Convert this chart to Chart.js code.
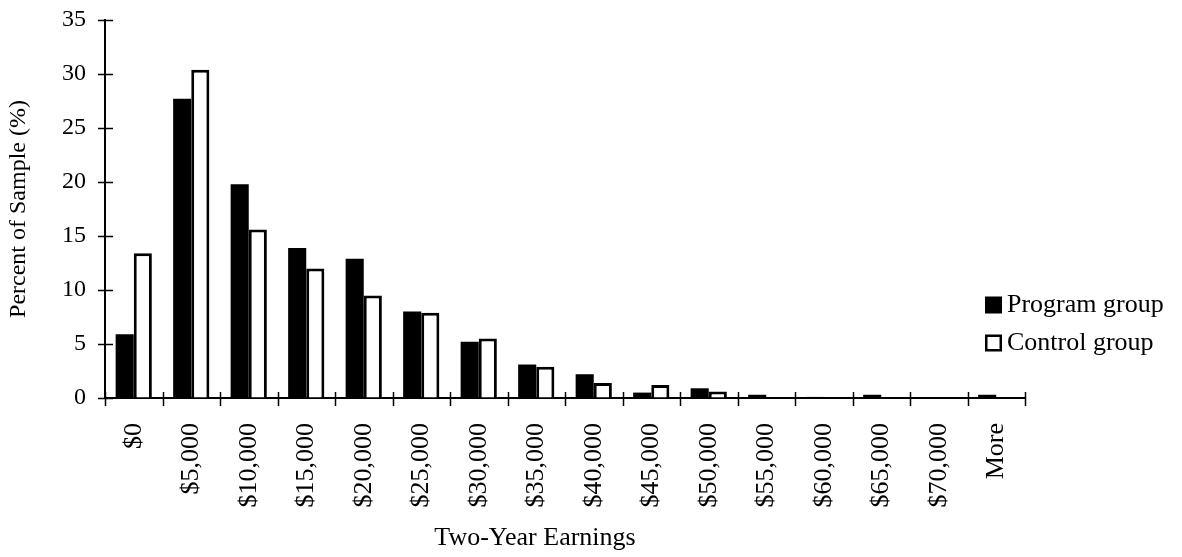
<!DOCTYPE html>
<html>
<head>
<meta charset="utf-8">
<script src="https://cdn.jsdelivr.net/npm/chart.js@4/dist/chart.umd.min.js"></script>
<style>
  html, body { margin: 0; padding: 0; background: #ffffff; }
  #wrap { width: 1182px; height: 557px; }
</style>
</head>
<body>
<div id="wrap"><canvas id="c" width="1182" height="557"></canvas></div>
<script>
const categories = ["$0", "$5,000", "$10,000", "$15,000", "$20,000", "$25,000", "$30,000", "$35,000",
                    "$40,000", "$45,000", "$50,000", "$55,000", "$60,000", "$65,000", "$70,000", "More"];
const programGroup = [5.9, 27.7, 19.8, 13.9, 12.9, 8.0, 5.2, 3.1, 2.2, 0.5, 0.9, 0.3, 0.1, 0.3, 0, 0.3];
const controlGroup = [13.4, 30.4, 15.6, 12.0, 9.5, 7.9, 5.5, 2.9, 1.4, 1.2, 0.6, 0, 0, 0, 0, 0];
const seriesNames = ["Program group", "Control group"];
const yTicks = [0, 5, 10, 15, 20, 25, 30, 35];
const xTitle = "Two-Year Earnings";
const yTitle = "Percent of Sample (%)";

const FONT = "'Liberation Serif', 'Times New Roman', serif";

const crossTicks = {
  id: 'crossTicks',
  afterDraw(chart) {
    const ctx = chart.ctx;
    const x = chart.scales.x, y = chart.scales.y;
    ctx.save();
    ctx.strokeStyle = '#000';
    ctx.lineWidth = 1.5;
    yTicks.forEach(v => {
      const py = Math.round(y.getPixelForValue(v)) + 0.5;
      ctx.beginPath();
      ctx.moveTo(x.left - 7, py);
      ctx.lineTo(x.left + 8, py);
      ctx.stroke();
    });
    const base = y.getPixelForValue(0);
    for (let i = 0; i <= categories.length; i++) {
      let px;
      if (i === 0) px = x.left;
      else if (i === categories.length) px = x.right;
      else px = (x.getPixelForValue(i - 1) + x.getPixelForValue(i)) / 2;
      px = Math.round(px) + 0.5;
      ctx.beginPath();
      ctx.moveTo(px, base - 6);
      ctx.lineTo(px, base + 8);
      ctx.stroke();
    }
    ctx.restore();
  }
};

const sideLegendAndTitle = {
  id: 'sideLegendAndTitle',
  afterDraw(chart) {
    const ctx = chart.ctx;
    ctx.save();
    ctx.font = "26px " + FONT;
    ctx.fillStyle = '#000';
    ctx.textBaseline = 'middle';
    chart.data.datasets.forEach((ds, i) => {
      const cy = 305 + i * 38;
      const bx = 985, size = 17;
      if (i === 0) {
        ctx.fillStyle = '#000';
        ctx.fillRect(bx, cy - size / 2, size, size);
      } else {
        ctx.fillStyle = '#fff';
        ctx.fillRect(bx, cy - size / 2, size, size);
        ctx.strokeStyle = '#000';
        ctx.lineWidth = 2.5;
        ctx.strokeRect(bx + 1.25, cy - size / 2 + 1.25, size - 2.5, size - 2.5);
      }
      ctx.fillStyle = '#000';
      ctx.fillText(ds.label, 1007, cy);
    });
    ctx.textAlign = 'center';
    ctx.font = "26px " + FONT;
    ctx.fillText(xTitle, 535, 538);
    ctx.restore();
  }
};

new Chart(document.getElementById('c'), {
  type: 'bar',
  data: {
    labels: categories,
    datasets: [
      {
        label: seriesNames[0],
        data: programGroup,
        backgroundColor: '#000',
        borderColor: '#000',
        borderWidth: 0,
        categoryPercentage: 0.63,
        barPercentage: 1.0
      },
      {
        label: seriesNames[1],
        data: controlGroup,
        backgroundColor: '#fff',
        borderColor: '#000',
        borderWidth: 3,
        categoryPercentage: 0.63,
        barPercentage: 1.0
      }
    ]
  },
  options: {
    responsive: false,
    animation: false,
    devicePixelRatio: 1,
    layout: { padding: { top: 20, right: 157, left: 0, bottom: 0 } },
    plugins: {
      legend: { display: false },
      title: { display: false },
      tooltip: { enabled: false }
    },
    scales: {
      x: {
        grid: { display: true, drawOnChartArea: false, drawTicks: false, offset: true },
        border: { display: true, color: '#000', width: 2 },
        ticks: {
          color: '#000',
          font: { family: FONT, size: 26 },
          minRotation: 90,
          maxRotation: 90,
          padding: 25,
          autoSkip: false
        },
        title: { display: false, text: xTitle },
        afterFit(scale) { scale.height = 159; scale.paddingLeft = 0; scale.paddingRight = 0; scale.paddingTop = 0; scale.paddingBottom = 0; }
      },
      y: {
        min: 0,
        max: 35,
        grid: { display: true, drawOnChartArea: false, drawTicks: false },
        border: { display: true, color: '#000', width: 2 },
        afterBuildTicks(scale) { scale.ticks = yTicks.map(v => ({ value: v })); },
        ticks: {
          color: '#000',
          font: { family: FONT, size: 24 },
          padding: 19
        },
        title: {
          display: true,
          text: yTitle,
          color: '#000',
          font: { family: FONT, size: 24 },
          padding: { top: 4, bottom: 0 }
        },
        afterFit(scale) { scale.width = 105; scale.paddingTop = 0; scale.paddingBottom = 0; }
      }
    }
  },
  plugins: [crossTicks, sideLegendAndTitle]
});
</script>
</body>
</html>
